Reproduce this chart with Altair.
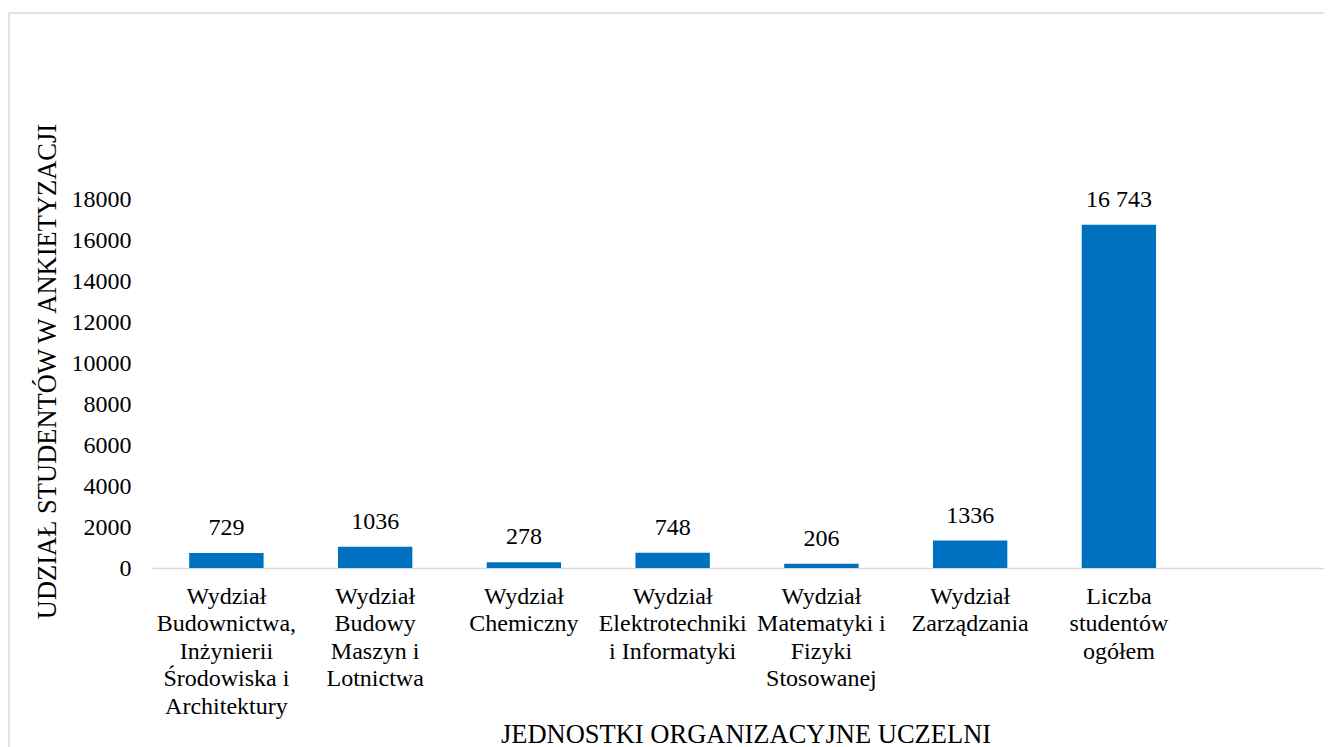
import altair as alt
import pandas as pd

# ---- data ----
categories = [
    "Wydział|Budownictwa,|Inżynierii|Środowiska i|Architektury",
    "Wydział|Budowy|Maszyn i|Lotnictwa",
    "Wydział|Chemiczny",
    "Wydział|Elektrotechniki|i Informatyki",
    "Wydział|Matematyki i|Fizyki|Stosowanej",
    "Wydział|Zarządzania",
    "Liczba|studentów|ogółem",
]
values = [729, 1036, 278, 748, 206, 1336, 16743]
value_labels = ["729", "1036", "278", "748", "206", "1336", "16 743"]
y_ticks = [0, 2000, 4000, 6000, 8000, 10000, 12000, 14000, 16000, 18000]

x_title = "JEDNOSTKI ORGANIZACYJNE UCZELNI"
y_title = "UDZIAŁ STUDENTÓW W ANKIETYZACJI"

FONT = "Liberation Serif, Times New Roman, Times, DejaVu Serif, serif"
BAR = "#0070C0"
GRID = "#d9d9d9"

df = pd.DataFrame({"cat": categories, "val": values, "lab": value_labels})

x_enc = alt.X(
    "cat:N",
    sort=categories,
    scale=alt.Scale(paddingInner=0.5, paddingOuter=0.6895, align=0.1814),
    axis=alt.Axis(
        title=x_title,
        labelAngle=0,
        labelExpr="split(datum.label, '|')",
        ticks=False,
        domainColor=GRID,
        domainWidth=1.5,
        labelFont=FONT,
        labelFontSize=24,
        labelColor="#000000",
        labelLineHeight=27.5,
        labelPadding=16,
        labelLimit=250,
        labelAlign="center",
        labelBaseline="top",
        titleFont=FONT,
        titleFontSize=26.5,
        titleFontWeight="normal",
        titleColor="#000000",
        titleX=593.5,
        titleY=174,
        titleBaseline="alphabetic",
        titleAlign="center",
    ),
)

y_enc = alt.Y(
    "val:Q",
    scale=alt.Scale(domain=[0, 18000], nice=False),
    axis=alt.Axis(
        values=y_ticks,
        format="d",
        domain=False,
        ticks=False,
        grid=False,
        labelFont=FONT,
        labelFontSize=24,
        labelColor="#000000",
        labelPadding=21,
        labelFlush=False,
        labelOverlap=False,
        title=y_title,
        titleFont=FONT,
        titleFontSize=26.5,
        titleFontWeight="normal",
        titleColor="#000000",
        titleAngle=270,
        titleX=-105,
        titleY=172,
        titleBaseline="middle",
        titleAlign="center",
    ),
)

base = alt.Chart(df)

bars = base.mark_bar(color=BAR).encode(x=x_enc, y=y_enc)

labels = base.mark_text(
    dy=-18, baseline="alphabetic", align="center",
    font=FONT, fontSize=24, color="#000000",
).encode(x=alt.X("cat:N", sort=categories), y="val:Q", text="lab:N")

frame_df = pd.DataFrame({"k": [0]})
frame_top = alt.Chart(frame_df).mark_rule(color=GRID, strokeWidth=1.5).encode(
    x=alt.value(-143), x2=alt.value(1200), y=alt.value(-186)
)
frame_left = alt.Chart(frame_df).mark_rule(color=GRID, strokeWidth=1.5).encode(
    x=alt.value(-143), y=alt.value(-186), y2=alt.value(600)
)

chart = (
    alt.layer(frame_top, frame_left, bars, labels)
    .properties(
        width=1172,
        height=369,
        background="white",
        autosize=alt.AutoSizeParams(type="none"),
        padding={"left": 144, "top": 191, "right": 0, "bottom": 186},
    )
    .configure_view(stroke="transparent", strokeWidth=0)
)

chart.save("out.html", embed_options={"renderer": "svg", "actions": False})
